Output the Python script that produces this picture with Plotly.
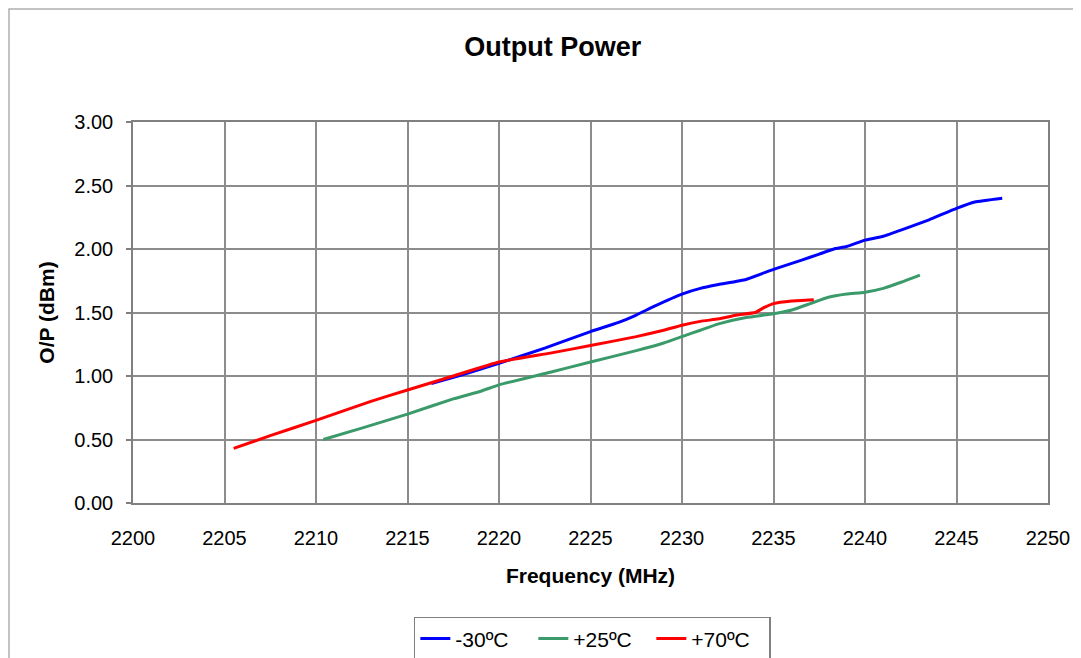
import plotly.graph_objects as go

# -30 °C
freq_m30 = [2216.3, 2218, 2220, 2222.5, 2225, 2226.5, 2227.5, 2228.5, 2230, 2231, 2232, 2233.5, 2235, 2236.5, 2237.5, 2238.3, 2239, 2240, 2241, 2242, 2243.5, 2245, 2246, 2247.5]
op_m30 = [0.94, 1.01, 1.10, 1.22, 1.35, 1.42, 1.48, 1.55, 1.645, 1.69, 1.72, 1.76, 1.84, 1.91, 1.96, 2.00, 2.02, 2.07, 2.10, 2.15, 2.23, 2.32, 2.37, 2.40]

# +25 °C
freq_p25 = [2210.4, 2212.5, 2215, 2217.5, 2219, 2220, 2222.8, 2225, 2227.5, 2229, 2230, 2231, 2232, 2233.5, 2235, 2236, 2237, 2238, 2239, 2240, 2241, 2242, 2243]
op_p25 = [0.50, 0.59, 0.70, 0.82, 0.88, 0.93, 1.03, 1.11, 1.20, 1.26, 1.31, 1.36, 1.41, 1.46, 1.49, 1.52, 1.57, 1.62, 1.645, 1.66, 1.69, 1.74, 1.795]

# +70 °C
freq_p70 = [2205.5, 2207.5, 2210, 2213, 2215, 2217.5, 2220, 2222.8, 2225, 2227.5, 2229, 2230, 2231, 2232, 2233, 2234, 2234.5, 2235, 2236, 2237.2]
op_p70 = [0.43, 0.53, 0.65, 0.80, 0.89, 1.00, 1.11, 1.18, 1.24, 1.31, 1.36, 1.40, 1.43, 1.45, 1.48, 1.50, 1.54, 1.57, 1.59, 1.60]

series = [
    ("-30ºC", freq_m30, op_m30, "#0000ff"),
    ("+25ºC", freq_p25, op_p25, "#3a9a6a"),
    ("+70ºC", freq_p70, op_p70, "#ff0000"),
]

FONT = "Liberation Sans, Arial, sans-serif"

fig = go.Figure()
for name, xs, ys, col in series:
    fig.add_trace(go.Scatter(x=xs, y=ys, mode="lines", name=name,
                             line=dict(color=col, width=3, shape="spline", smoothing=0.4)))

fig.update_layout(
    width=1081, height=658,
    margin=dict(l=125, r=41, t=114, b=163, autoexpand=False),
    paper_bgcolor="white", plot_bgcolor="white",
    font=dict(family=FONT, size=20, color="black"),
    title=dict(text="<b>Output Power</b>", x=0.504, xanchor="center", y=0.941, yanchor="middle",
               font=dict(family=FONT, size=27, color="black")),
    showlegend=True,
    legend=dict(orientation="h", x=0.502, xanchor="center", y=-0.299, yanchor="top",
                bordercolor="#808080", borderwidth=1.5, bgcolor="white",
                font=dict(family=FONT, size=21), traceorder="normal",
                entrywidth=73, entrywidthmode="pixels"),
    xaxis=dict(range=[2200, 2250], dtick=5, tick0=2200, showgrid=True, gridcolor="#8c8c8c", gridwidth=1.5,
               zeroline=False, showline=True, linecolor="#808080", linewidth=1.5, mirror=True,
               ticks="", ticklabelstandoff=16,
               title=dict(text="<b>Frequency (MHz)</b>", font=dict(family=FONT, size=21), standoff=21)),
    yaxis=dict(range=[0, 3], dtick=0.5, tickformat=".2f", showgrid=True, gridcolor="#8c8c8c", gridwidth=1.5,
               zeroline=False, showline=True, linecolor="#808080", linewidth=1.5, mirror=True,
               ticks="outside", ticklen=5, tickcolor="#808080", tickwidth=1.5, ticklabelstandoff=9,
               title=dict(text="<b>O/P (dBm)</b>", font=dict(family=FONT, size=21), standoff=14)),
    shapes=[dict(type="rect", xref="paper", yref="paper", x0=(1 - 125) / 915, x1=1.2,
                 y0=-0.6, y1=(503 - 9) / 381, line=dict(color="#b0b0b0", width=1.5), layer="below")],
)

fig.write_html("out.html")
